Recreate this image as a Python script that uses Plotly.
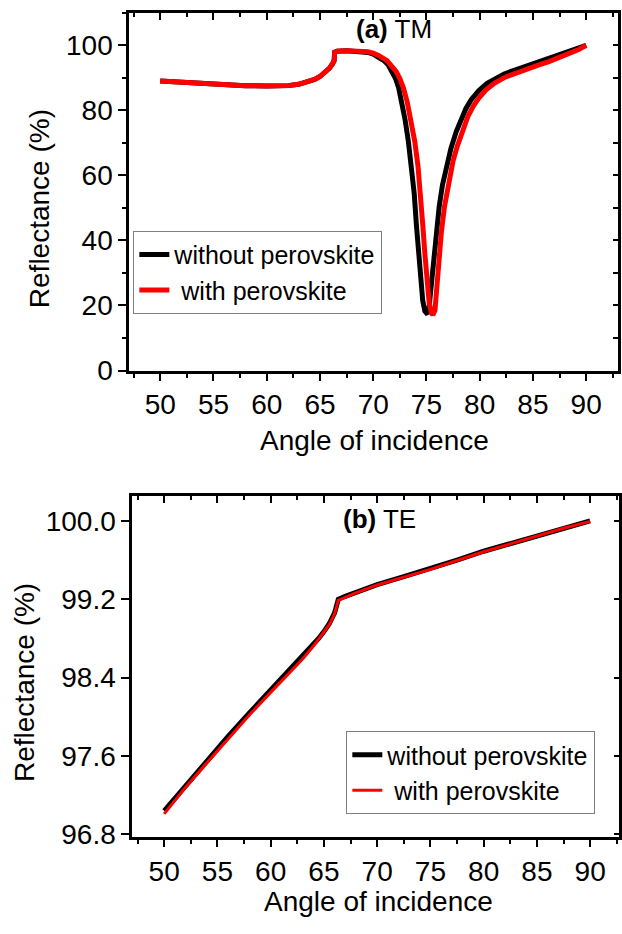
import plotly.graph_objects as go

# ---------------- (a) TM polarisation ----------------
angle_tm_without = [50, 52, 54, 56, 58, 60, 61, 62, 63, 63.8, 64.5, 65.0, 65.5, 65.9, 66.2, 66.33, 66.38,
                    66.6, 67.5, 68.5, 69.0, 69.5, 70.0, 70.5, 71.0, 71.4, 71.8, 72.1, 72.4, 72.7, 73.0,
                    73.3, 73.6, 73.85, 74.05, 74.25, 74.45, 74.65, 74.85, 75.0, 75.2, 75.35, 75.5, 75.7,
                    75.9, 76.2, 76.5, 76.9, 77.3, 77.8, 78.2, 78.7, 79.2, 79.9, 80.7, 81.5, 82.3, 83.3,
                    84.3, 85.4, 86.5, 87.5, 88.5, 89.3, 90]
refl_tm_without = [89.0, 88.6, 88.2, 87.9, 87.6, 87.5, 87.5, 87.6, 88.0, 88.6, 89.5, 90.4, 91.7, 93.0, 94.4, 95.3, 97.9,
                   98.2, 98.3, 98.2, 98.1, 97.8, 97.3, 96.5, 95.3, 94.0, 92.0, 89.8, 86.8, 82.5, 77.0,
                   70.5, 63.0, 54.5, 45.0, 36.0, 27.5, 21.5, 18.3, 17.7, 18.0, 23.0, 29.0, 36.0,
                   42.5, 50.5, 57.0, 63.5, 68.3, 73.5, 77.0, 80.5, 83.3, 86.0, 88.3, 89.9, 91.2, 92.4,
                   93.5, 94.7, 95.9, 97.0, 98.0, 99.0, 100.0]

angle_tm_with = [50, 52, 54, 56, 58, 60, 61, 62, 63, 63.8, 64.5, 65.0, 65.5, 65.9, 66.2, 66.33, 66.38,
                 66.6, 67.5, 68.5, 69.0, 69.5, 70.0, 70.5, 71.3, 71.7, 72.15, 72.5, 72.85, 73.2, 73.55,
                 73.9, 74.2, 74.45, 74.65, 74.85, 75.05, 75.25, 75.45, 75.6, 75.8, 76.0, 76.2, 76.4,
                 76.7, 77.1, 77.5, 77.9, 78.4, 78.9, 79.4, 79.9, 80.6, 81.4, 82.4, 83.5, 84.5, 85.5,
                 86.5, 87.5, 88.5, 89.3, 90]
refl_tm_with = [89.0, 88.6, 88.2, 87.9, 87.6, 87.5, 87.5, 87.6, 88.0, 88.6, 89.5, 90.4, 91.7, 93.0, 94.4, 95.3, 97.9,
                98.2, 98.3, 98.3, 98.2, 98.0, 97.6, 96.9, 95.3, 94.0, 92.0, 89.8, 86.8, 82.5, 77.0,
                70.5, 63.0, 54.5, 45.0, 36.0, 27.5, 21.0, 17.8, 17.1, 18.5, 27.0, 35.0, 42.5,
                50.5, 58.5, 64.5, 69.0, 74.0, 78.2, 81.3, 83.7, 86.3, 88.4, 90.2, 91.6, 92.8, 93.9,
                95.0, 96.2, 97.5, 98.7, 100.0]

# ---------------- (b) TE polarisation ----------------
angle_te = [50, 52, 54, 56, 58, 60, 62, 63, 64, 64.5, 65.0, 65.5, 66.0, 66.2, 66.35,
            67, 68, 70, 72.5, 75, 77.5, 80, 82.5, 85, 87.5, 90]
refl_te_without = [97.04, 97.30, 97.55, 97.80, 98.04, 98.27, 98.50, 98.61, 98.73, 98.80, 98.87, 98.95, 99.06, 99.13,
                   99.20, 99.23, 99.27, 99.35, 99.43, 99.51, 99.60, 99.69, 99.77, 99.85, 99.93, 100.00]
refl_te_with = [97.01, 97.28, 97.53, 97.78, 98.02, 98.25, 98.48, 98.59, 98.72, 98.79, 98.86, 98.94, 99.05, 99.12,
                99.19, 99.22, 99.265, 99.345, 99.425, 99.505, 99.595, 99.685, 99.765, 99.845, 99.925, 99.995]

series_names = ["without perovskite", "\u00a0with perovskite"]
y_title = "Reflectance (%)"
x_title = "Angle of incidence"
panel_labels = ["<b>(a)</b> TM", "<b>(b)</b> TE"]

W, H = 622, 934
FONT = "Liberation Sans, Arial, sans-serif"


def px_x(p):
    return p / W


def px_y(p):
    return 1 - p / H


fig = go.Figure()

fig.add_trace(go.Scatter(x=angle_tm_without, y=refl_tm_without, name=series_names[0], mode="lines",
                         line=dict(color="#000000", width=5), xaxis="x", yaxis="y", legend="legend"))
fig.add_trace(go.Scatter(x=angle_tm_with, y=refl_tm_with, name=series_names[1], mode="lines",
                         line=dict(color="#ff0000", width=5), xaxis="x", yaxis="y", legend="legend"))
fig.add_trace(go.Scatter(x=angle_te, y=refl_te_without, name=series_names[0], mode="lines",
                         line=dict(color="#000000", width=5), xaxis="x2", yaxis="y2", legend="legend2"))
fig.add_trace(go.Scatter(x=angle_te, y=refl_te_with, name=series_names[1], mode="lines",
                         line=dict(color="#ff0000", width=3), xaxis="x2", yaxis="y2", legend="legend2"))

# empty traces so the mirrored (top / right) tick axes get drawn
fig.add_trace(go.Scatter(x=[None], y=[None], xaxis="x3", yaxis="y3", showlegend=False, hoverinfo="skip"))
fig.add_trace(go.Scatter(x=[None], y=[None], xaxis="x4", yaxis="y4", showlegend=False, hoverinfo="skip"))

tick_font = dict(family=FONT, size=28, color="black")
x_range_a = [47.1, 92.99]
x_range_b = [47.01, 92.71]
y_range_a = [0, 110]
y_range_b = [96.77, 100.25]

dom_x_a = [px_x(130), px_x(621)]
dom_y_a = [px_y(377), px_y(13)]
dom_x_b = [px_x(133), px_x(622)]
dom_y_b = [px_y(852), px_y(505)]


def bottom_x(domain, rng, anchor):
    return dict(domain=domain, range=rng, anchor=anchor, tickmode="linear", tick0=50, dtick=5,
                ticks="outside", ticklen=7, tickwidth=2, tickcolor="black",
                minor=dict(tick0=47.5, dtick=2.5, ticks="outside", ticklen=4, tickwidth=2, tickcolor="black"),
                showline=True, linewidth=3, linecolor="black", mirror=True,
                showgrid=False, zeroline=False, tickfont=tick_font, fixedrange=True)


def top_x(rng, over, anchor):
    return dict(overlaying=over, side="top", anchor=anchor, range=rng, tickmode="linear", tick0=50, dtick=5,
                ticks="inside", ticklen=7, tickwidth=2, tickcolor="black",
                minor=dict(tick0=47.5, dtick=2.5, ticks="inside", ticklen=4, tickwidth=2, tickcolor="black"),
                showticklabels=False, showline=False, showgrid=False, zeroline=False, fixedrange=True)


legend_style = dict(xanchor="left", yanchor="middle", bgcolor="white", bordercolor="#808080", borderwidth=1,
                    font=dict(family=FONT, size=25, color="black"), tracegroupgap=0, traceorder="normal")

fig.update_layout(
    width=W, height=H,
    margin=dict(l=0, r=0, t=0, b=0),
    paper_bgcolor="white", plot_bgcolor="white",
    font=dict(family=FONT, color="black"),
    xaxis=bottom_x(dom_x_a, x_range_a, "y"),
    yaxis=dict(domain=dom_y_a, range=y_range_a, anchor="x", tickmode="linear", tick0=0, dtick=20,
               ticks="outside", ticklen=8, tickwidth=2, tickcolor="black",
               minor=dict(dtick=10, ticks="outside", ticklen=4, tickwidth=2, tickcolor="black"),
               showline=True, linewidth=3, linecolor="black", mirror=True,
               showgrid=False, zeroline=False, tickfont=tick_font, fixedrange=True),
    xaxis3=top_x(x_range_a, "x", "y3"),
    yaxis3=dict(overlaying="y", side="right", anchor="x3", range=y_range_a, tickmode="linear", tick0=0, dtick=20,
                ticks="inside", ticklen=5, tickwidth=2, tickcolor="black",
                minor=dict(dtick=10, ticks="inside", ticklen=5, tickwidth=2, tickcolor="black"),
                showticklabels=False, showline=False, showgrid=False, zeroline=False, fixedrange=True),
    xaxis2=bottom_x(dom_x_b, x_range_b, "y2"),
    yaxis2=dict(domain=dom_y_b, range=y_range_b, anchor="x2", tickmode="linear", tick0=96.8, dtick=0.8,
                tickformat=".1f", ticks="outside", ticklen=8, tickwidth=2, tickcolor="black",
                showline=True, linewidth=3, linecolor="black", mirror=True,
                showgrid=False, zeroline=False, tickfont=tick_font, fixedrange=True),
    xaxis4=top_x(x_range_b, "x2", "y4"),
    yaxis4=dict(overlaying="y2", side="right", anchor="x4", range=y_range_b, tickmode="linear", tick0=96.8,
                dtick=0.8, ticks="inside", ticklen=5, tickwidth=2, tickcolor="black",
                showticklabels=False, showline=False, showgrid=False, zeroline=False, fixedrange=True),
    legend=dict(x=px_x(134), y=px_y(277), **legend_style),
    legend2=dict(x=px_x(348), y=px_y(786), **legend_style),
    showlegend=True,
)

title_font = dict(family=FONT, size=28, color="black")
label_font = dict(family=FONT, size=26, color="black")

annotations = [
    dict(text=y_title, x=px_x(40), y=px_y(212), textangle=-90, font=title_font),
    dict(text=y_title, x=px_x(24), y=px_y(694), textangle=-90, font=title_font),
    dict(text=x_title, x=px_x(376), y=px_y(448), font=title_font),
    dict(text=x_title, x=px_x(380), y=px_y(917), font=title_font),
    dict(text=panel_labels[0], x=px_x(396), y=px_y(30), font=label_font),
    dict(text=panel_labels[1], x=px_x(381), y=px_y(528), font=label_font),
]
for a in annotations:
    a.update(xref="paper", yref="paper", xanchor="center", yanchor="middle", showarrow=False)
fig.update_layout(annotations=annotations)

fig.write_html("out.html")
